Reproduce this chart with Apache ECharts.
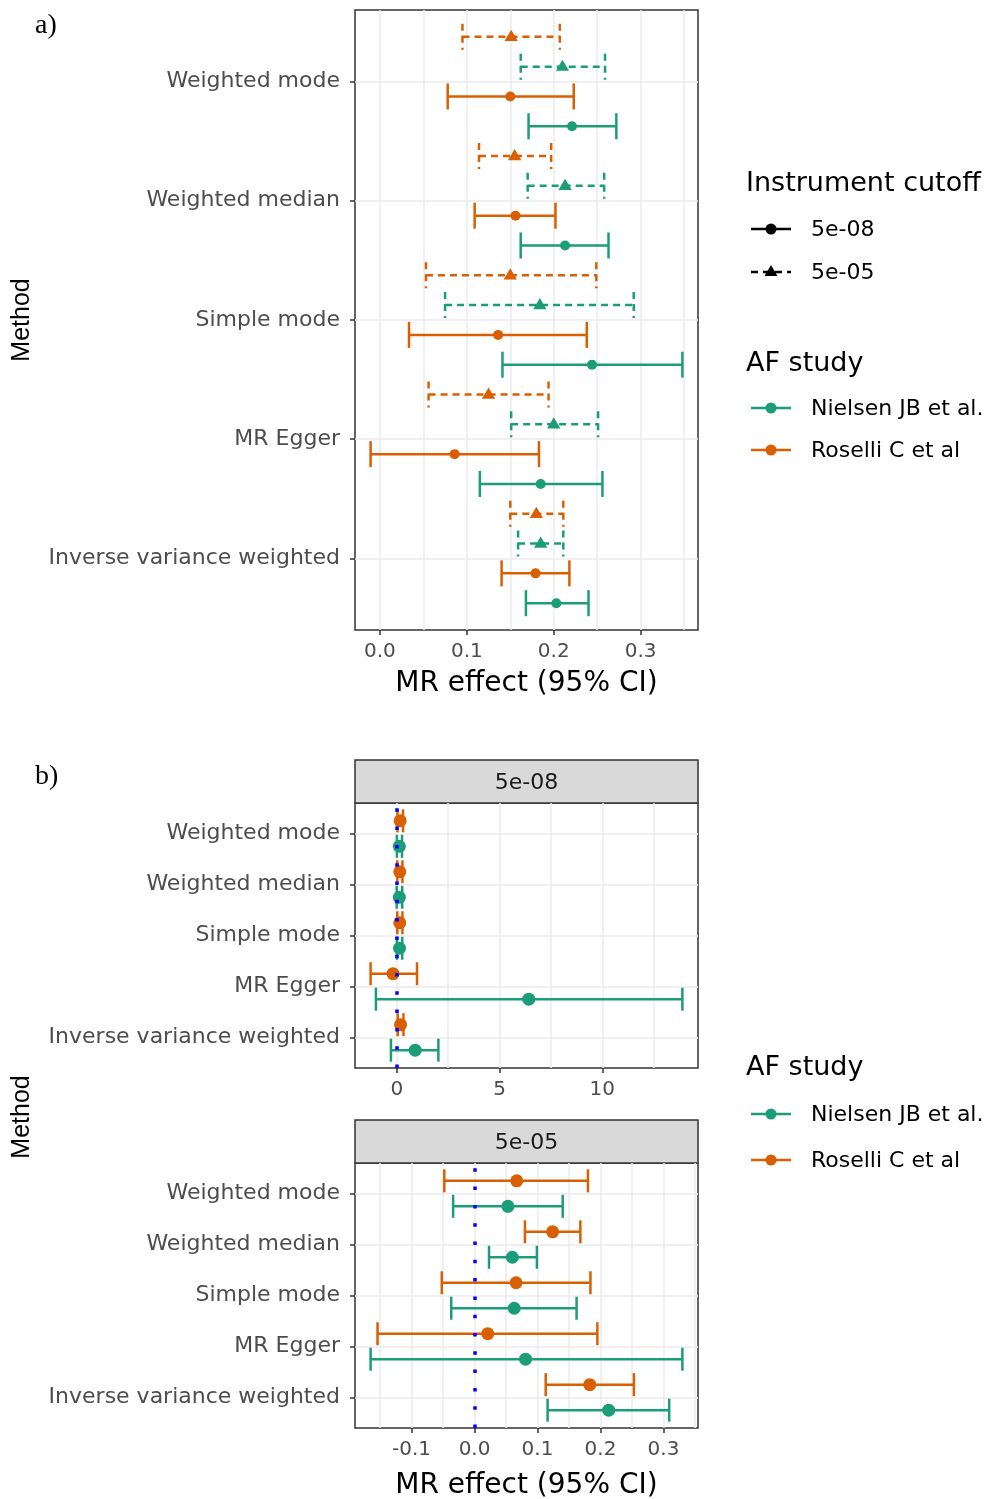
<!DOCTYPE html>
<html>
<head>
<meta charset="utf-8">
<title>MR effect (95% CI)</title>
<script src="https://cdn.jsdelivr.net/npm/echarts@6.0.0/dist/echarts.min.js"></script>
<style>
  html, body { margin: 0; padding: 0; background: #fff; }
  #chart { width: 995px; height: 1499px; }
</style>
</head>
<body>
<div id="chart"></div>
<script>
// methods from bottom (y = 1) to top (y = 5)
const methods = ['Inverse variance weighted', 'MR Egger', 'Simple mode', 'Weighted median', 'Weighted mode']

// a) [lower, estimate, upper] for each method, same order as methods
const aNielsen08 = [[0.168, 0.203, 0.240], [0.115, 0.185, 0.256], [0.141, 0.244, 0.348], [0.162, 0.213, 0.263], [0.171, 0.221, 0.272]]
const aNielsen05 = [[0.159, 0.185, 0.211], [0.151, 0.200, 0.251], [0.075, 0.184, 0.292], [0.170, 0.213, 0.258], [0.162, 0.210, 0.259]]
const aRoselli08 = [[0.140, 0.179, 0.218], [-0.0107, 0.086, 0.183], [0.0335, 0.136, 0.238], [0.109, 0.156, 0.202], [0.078, 0.150, 0.223]]
const aRoselli05 = [[0.150, 0.180, 0.211], [0.056, 0.125, 0.194], [0.053, 0.150, 0.249], [0.114, 0.155, 0.197], [0.095, 0.151, 0.207]]

// b) facet 5e-08
const bNielsen08 = [[-0.29, 0.89, 2.02], [-1.02, 6.42, 13.9], [0.0, 0.13, 0.26], [-0.01, 0.12, 0.26], [0.0, 0.12, 0.25]]
const bRoselli08 = [[0.04, 0.18, 0.32], [-1.28, -0.19, 0.98], [0.02, 0.14, 0.27], [0.02, 0.14, 0.27], [0.03, 0.16, 0.30]]
// b) facet 5e-05
const bNielsen05 = [[0.116, 0.213, 0.309], [-0.165, 0.081, 0.330], [-0.037, 0.063, 0.162], [0.023, 0.060, 0.099], [-0.034, 0.053, 0.140]]
const bRoselli05 = [[0.113, 0.183, 0.253], [-0.154, 0.021, 0.195], [-0.052, 0.066, 0.184], [0.080, 0.124, 0.168], [-0.048, 0.067, 0.180]]

const GREEN = '#1B9E77'
const ORANGE = '#D95F02'
const FONT = 'DejaVu Sans'

// ggplot style range: data extent + 5% each side
function expandRange (...sets) {
  let lo = Infinity
  let hi = -Infinity
  sets.forEach(s => s.forEach(t => { lo = Math.min(lo, t[0]); hi = Math.max(hi, t[2]) }))
  const pad = (hi - lo) * 0.05
  return [lo - pad, hi + pad]
}

function steps (range, step) {
  const out = []
  for (let k = Math.ceil(range[0] / step); k * step <= range[1]; k++) {
    out.push(Math.round(k * step * 1000) / 1000 + 0)
  }
  return out
}

function errorBar (dodge, opt) {
  return function (params, api) {
    const y = api.value(0) + dodge
    const lo = api.coord([api.value(1), y])
    const est = api.coord([api.value(2), y])
    const hi = api.coord([api.value(3), y])
    const h = opt.cap / 2
    const style = { stroke: opt.color, lineWidth: 2.5, fill: null }
    if (opt.dashed) style.lineDash = [7, 5]
    const children = [
      { type: 'line', shape: { x1: lo[0], y1: lo[1], x2: hi[0], y2: hi[1] }, style },
      { type: 'line', shape: { x1: lo[0], y1: lo[1] - h, x2: lo[0], y2: lo[1] + h }, style },
      { type: 'line', shape: { x1: hi[0], y1: hi[1] - h, x2: hi[0], y2: hi[1] + h }, style }
    ]
    const r = opt.size
    if (opt.triangle) {
      children.push({
        type: 'polygon',
        shape: { points: [[est[0], est[1] - r], [est[0] - r * 0.95, est[1] + r * 0.6], [est[0] + r * 0.95, est[1] + r * 0.6]] },
        style: { fill: opt.color }
      })
    } else {
      children.push({ type: 'circle', shape: { cx: est[0], cy: est[1], r }, style: { fill: opt.color } })
    }
    return { type: 'group', children }
  }
}

function makeSeries (name, triples, axisIndex, dodge, opt) {
  return {
    name,
    type: 'custom',
    xAxisIndex: axisIndex * 2,
    yAxisIndex: axisIndex,
    renderItem: errorBar(dodge, opt),
    encode: { x: [1, 2, 3], y: 0 },
    data: triples.map((t, i) => [i + 1, t[0], t[1], t[2]]),
    clip: false,
    z: 3
  }
}

function xAxisPair (gridIndex, range, minorStep, majorStep, fmt) {
  const base = { type: 'value', gridIndex, min: range[0], max: range[1], position: 'bottom', axisLine: { show: false, onZero: false } }
  return [
    Object.assign({}, base, {
      axisTick: { show: false, customValues: steps(range, minorStep) },
      splitLine: { show: true, lineStyle: { color: '#EBEBEB', width: 1.5 } },
      axisLabel: { customValues: steps(range, majorStep), formatter: fmt, color: '#4D4D4D', fontSize: 20, fontFamily: FONT, margin: 12 }
    }),
    Object.assign({}, base, {
      axisTick: { show: true, customValues: steps(range, majorStep), length: 5, lineStyle: { color: '#333333', width: 1.5 } },
      splitLine: { show: false },
      axisLabel: { show: false }
    })
  ]
}

function yAxis (gridIndex) {
  return {
    type: 'value',
    gridIndex,
    min: 0.4,
    max: 5.6,
    position: 'left',
    axisLine: { show: false, onZero: false },
    axisTick: { show: true, customValues: [1, 2, 3, 4, 5], length: 5, lineStyle: { color: '#333333', width: 1.5 } },
    axisLabel: {
      customValues: [1, 2, 3, 4, 5],
      formatter: v => methods[Math.round(v) - 1],
      color: '#4D4D4D',
      fontSize: 22,
      fontFamily: FONT,
      margin: 15,
      padding: [4, 0, 0, 0]
    },
    splitLine: { show: true, lineStyle: { color: '#EBEBEB', width: 1.5 } }
  }
}

const rangeA = expandRange(aNielsen08, aNielsen05, aRoselli08, aRoselli05)
const rangeB8 = expandRange(bNielsen08, bRoselli08)
const rangeB5 = expandRange(bNielsen05, bRoselli05)

const gridBase = { left: 355, width: 343, show: true, backgroundColor: '#fff', borderColor: '#333333', borderWidth: 1.5, containLabel: false, outerBoundsMode: 'none' }

const zeroLine = {
  symbol: 'none',
  silent: true,
  label: { show: false },
  lineStyle: { color: '#0000FF', width: 3.5, type: [3.5, 14.8] },
  data: [{ xAxis: 0 }]
}

function text (x, y, str, size, extra) {
  return {
    type: 'text',
    x,
    y,
    style: Object.assign({ text: str, fontSize: size, fontFamily: FONT, fill: '#000', align: 'left', verticalAlign: 'middle' }, extra || {})
  }
}

function legendRow (y, color, label, triangle, dashed) {
  const items = [
    { type: 'line', shape: { x1: 751, y1: y, x2: 791, y2: y }, style: Object.assign({ stroke: color, lineWidth: 2.5 }, dashed ? { lineDash: [7, 5] } : {}) },
    text(811, y + 1, label, 22)
  ]
  if (triangle) {
    items.push({ type: 'polygon', shape: { points: [[771, y - 7], [764.5, y + 4], [777.5, y + 4]] }, style: { fill: color } })
  } else {
    items.push({ type: 'circle', shape: { cx: 771, cy: y, r: 5.5 }, style: { fill: color } })
  }
  return items
}

function strip (y, label) {
  return [
    { type: 'rect', shape: { x: 355, y, width: 343, height: 43 }, style: { fill: '#D9D9D9', stroke: '#333333', lineWidth: 1.5 } },
    text(526.5, y + 23, label, 22, { align: 'center', fill: '#1A1A1A' })
  ]
}

function vertical (x, y, str) {
  const t = text(x, y, str, 25, { fontFamily: 'Liberation Sans', align: 'center' })
  t.rotation = Math.PI / 2
  return t
}

const chart = echarts.init(document.getElementById('chart'), null, { renderer: 'canvas' })

const b08Nielsen = makeSeries('Nielsen JB et al.', bNielsen08, 1, -0.25, { color: GREEN, cap: 23, size: 6.5 })
b08Nielsen.markLine = zeroLine
const b05Nielsen = makeSeries('Nielsen JB et al.', bNielsen05, 2, -0.25, { color: GREEN, cap: 23, size: 6.5 })
b05Nielsen.markLine = zeroLine

chart.setOption({
  animation: false,
  backgroundColor: '#fff',
  grid: [
    Object.assign({}, gridBase, { top: 10, height: 620 }),
    Object.assign({}, gridBase, { top: 803, height: 265 }),
    Object.assign({}, gridBase, { top: 1163, height: 265 })
  ],
  xAxis: [
    ...xAxisPair(0, rangeA, 0.05, 0.1, v => v.toFixed(1)),
    ...xAxisPair(1, rangeB8, 2.5, 5, v => String(Math.round(v))),
    ...xAxisPair(2, rangeB5, 0.05, 0.1, v => v.toFixed(1))
  ],
  yAxis: [yAxis(0), yAxis(1), yAxis(2)],
  series: [
    makeSeries('Roselli C et al', aRoselli05, 0, 0.375, { color: ORANGE, cap: 26, size: 7, triangle: true, dashed: true }),
    makeSeries('Nielsen JB et al.', aNielsen05, 0, 0.125, { color: GREEN, cap: 26, size: 7, triangle: true, dashed: true }),
    makeSeries('Roselli C et al', aRoselli08, 0, -0.125, { color: ORANGE, cap: 26, size: 5 }),
    makeSeries('Nielsen JB et al.', aNielsen08, 0, -0.375, { color: GREEN, cap: 26, size: 5 }),
    makeSeries('Roselli C et al', bRoselli08, 1, 0.25, { color: ORANGE, cap: 23, size: 6.5 }),
    b08Nielsen,
    makeSeries('Roselli C et al', bRoselli05, 2, 0.25, { color: ORANGE, cap: 23, size: 6.5 }),
    b05Nielsen
  ],
  graphic: [
    text(35, 26, 'a)', 28, { fontFamily: 'Liberation Serif' }),
    text(35, 777, 'b)', 28, { fontFamily: 'Liberation Serif' }),
    vertical(22, 320, 'Method'),
    vertical(22, 1117, 'Method'),
    text(526.5, 684, 'MR effect (95% CI)', 28, { align: 'center' }),
    text(526.5, 1486, 'MR effect (95% CI)', 28, { align: 'center' }),
    ...strip(760, '5e-08'),
    ...strip(1120, '5e-05'),
    text(746, 184, 'Instrument cutoff', 27),
    ...legendRow(229, '#000', '5e-08', false, false),
    ...legendRow(272, '#000', '5e-05', true, true),
    text(746, 364, 'AF study', 27),
    ...legendRow(408, GREEN, 'Nielsen JB et al.', false, false),
    ...legendRow(450, ORANGE, 'Roselli C et al', false, false),
    text(746, 1068, 'AF study', 27),
    ...legendRow(1114, GREEN, 'Nielsen JB et al.', false, false),
    ...legendRow(1160, ORANGE, 'Roselli C et al', false, false)
  ]
})
</script>
</body>
</html>
